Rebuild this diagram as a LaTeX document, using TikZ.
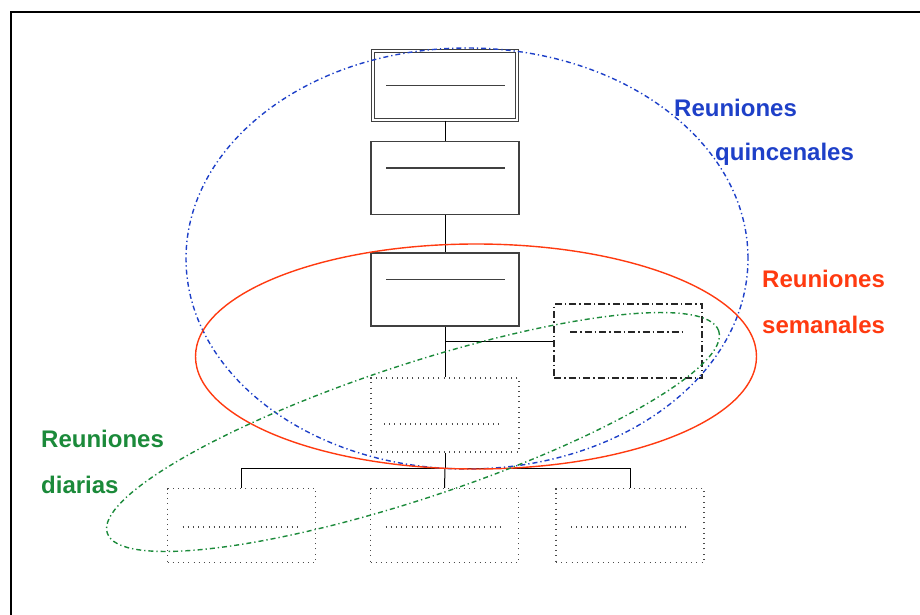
\documentclass[tikz,border=0pt]{standalone}
\usepackage{fontspec}
\setmainfont{Liberation Sans}
\definecolor{qblue}{HTML}{1E40C8}
\definecolor{wred}{HTML}{FF3A10}
\definecolor{dgreen}{HTML}{1B8A3A}
\definecolor{boxgray}{HTML}{404040}
\tikzset{
  orgbox/.style={draw=boxgray, line width=1.1pt, minimum width=148pt, minimum height=73pt, inner sep=0pt},
  dblbox/.style={draw=boxgray, line width=1.1pt, double, double distance=2pt, minimum width=144.5pt, minimum height=69.5pt, inner sep=0pt},
  dashbox/.style={draw=black!85, line width=1.3pt, dash pattern=on 7pt off 3pt on 1.5pt off 3pt, minimum width=148pt, minimum height=74pt, inner sep=0pt},
  dotbox/.style={draw=black!70, line width=1.1pt, dash pattern=on 1pt off 4.2pt, minimum width=148pt, minimum height=74pt, inner sep=0pt},
  bar/.style={draw=boxgray, line width=1.1pt},
  link/.style={draw=black, line width=1pt},
  lbl/.style={font=\bfseries\fontsize{24}{26}\selectfont, anchor=base west, inner sep=0pt},
  meeting/.style={line width=1.4pt}
}
\begin{document}
\begin{tikzpicture}[x=1pt,y=-1pt]
\useasboundingbox (0,0) rectangle (920,615);
% frame
\draw[line width=2pt] (11,616) -- (11,12) -- (921,12);

% organisation chart
\node[dblbox] (b1) at (445,85.5) {};
\node[orgbox] (b2) at (445,178) {};
\node[orgbox] (b3) at (445,289.5) {};
\node[dashbox] (bs) at (628,341) {};
\node[dotbox] (b4) at (445,415) {};
\node[dotbox] (b5) at (241.5,525.5) {};
\node[dotbox] (b6) at (444.5,525.5) {};
\node[dotbox] (b7) at (630,525.5) {};

% placeholder lines inside the boxes
\draw[bar] ([shift={(-59,0)}]b1.center) -- ([shift={(60,0)}]b1.center);
\draw[bar] ([shift={(-59,-10)}]b2.center) -- ([shift={(60,-10)}]b2.center);
\draw[bar] ([shift={(-59,-10)}]b3.center) -- ([shift={(60,-10)}]b3.center);
\draw[draw=black!85, line width=1.3pt, dash pattern=on 7pt off 3pt on 1.5pt off 3pt] ([shift={(-58,-9)}]bs.center) -- ([shift={(54,-9)}]bs.center);
\draw[draw=black!70, line width=1.1pt, dash pattern=on 1pt off 4.2pt] ([shift={(-61,9)}]b4.center) -- ([shift={(54,9)}]b4.center);
\foreach \b in {b5,b6,b7}
  \draw[draw=black!70, line width=1.1pt, dash pattern=on 1pt off 4.2pt] ([shift={(-59,1.5)}]\b.center) -- ([shift={(56,1.5)}]\b.center);

% connectors
\coordinate (bus) at (445,468);
\draw[link] (b1.south) -- (b2.north);
\draw[link] (b2.south) -- (b3.north);
\draw[link] (b3.south) -- (b4.north);
\draw[link] (b3.south |- bs.west) -- (bs.west);
\draw[link] (b4.south) -- (bus);
\draw[link] (b5.north |- bus) -- (b7.north |- bus);
\draw[link] (b5.north |- bus) -- (b5.north);
\draw[link] (bus) -- (b6.north);
\draw[link] (b7.north |- bus) -- (b7.north);

% meeting groups
\draw[qblue, meeting, dash pattern=on 5pt off 3pt on 1.3pt off 3pt] (467,258.5) ellipse [x radius=281pt, y radius=210.5pt];
\draw[wred, meeting] (476,356.5) ellipse [x radius=280.5pt, y radius=112.5pt];
\draw[dgreen, meeting, dash pattern=on 5pt off 3pt on 1.3pt off 3pt, rotate around={18.3:(413,432)}] (413,432) ellipse [x radius=322pt, y radius=67pt];

% labels
\node[lbl, text=qblue] (t1) at (674,117) {Reuniones};
\node[lbl, text=qblue] (t2) at (715,160) {quincenales};
\node[lbl, text=wred] (t3) at (762,287) {Reuniones};
\node[lbl, text=wred] (t4) at (762,333) {semanales};
\node[lbl, text=dgreen] (t5) at (41,447) {Reuniones};
\node[lbl, text=dgreen] (t6) at (41,493) {diarias};
\end{tikzpicture}
\end{document}
